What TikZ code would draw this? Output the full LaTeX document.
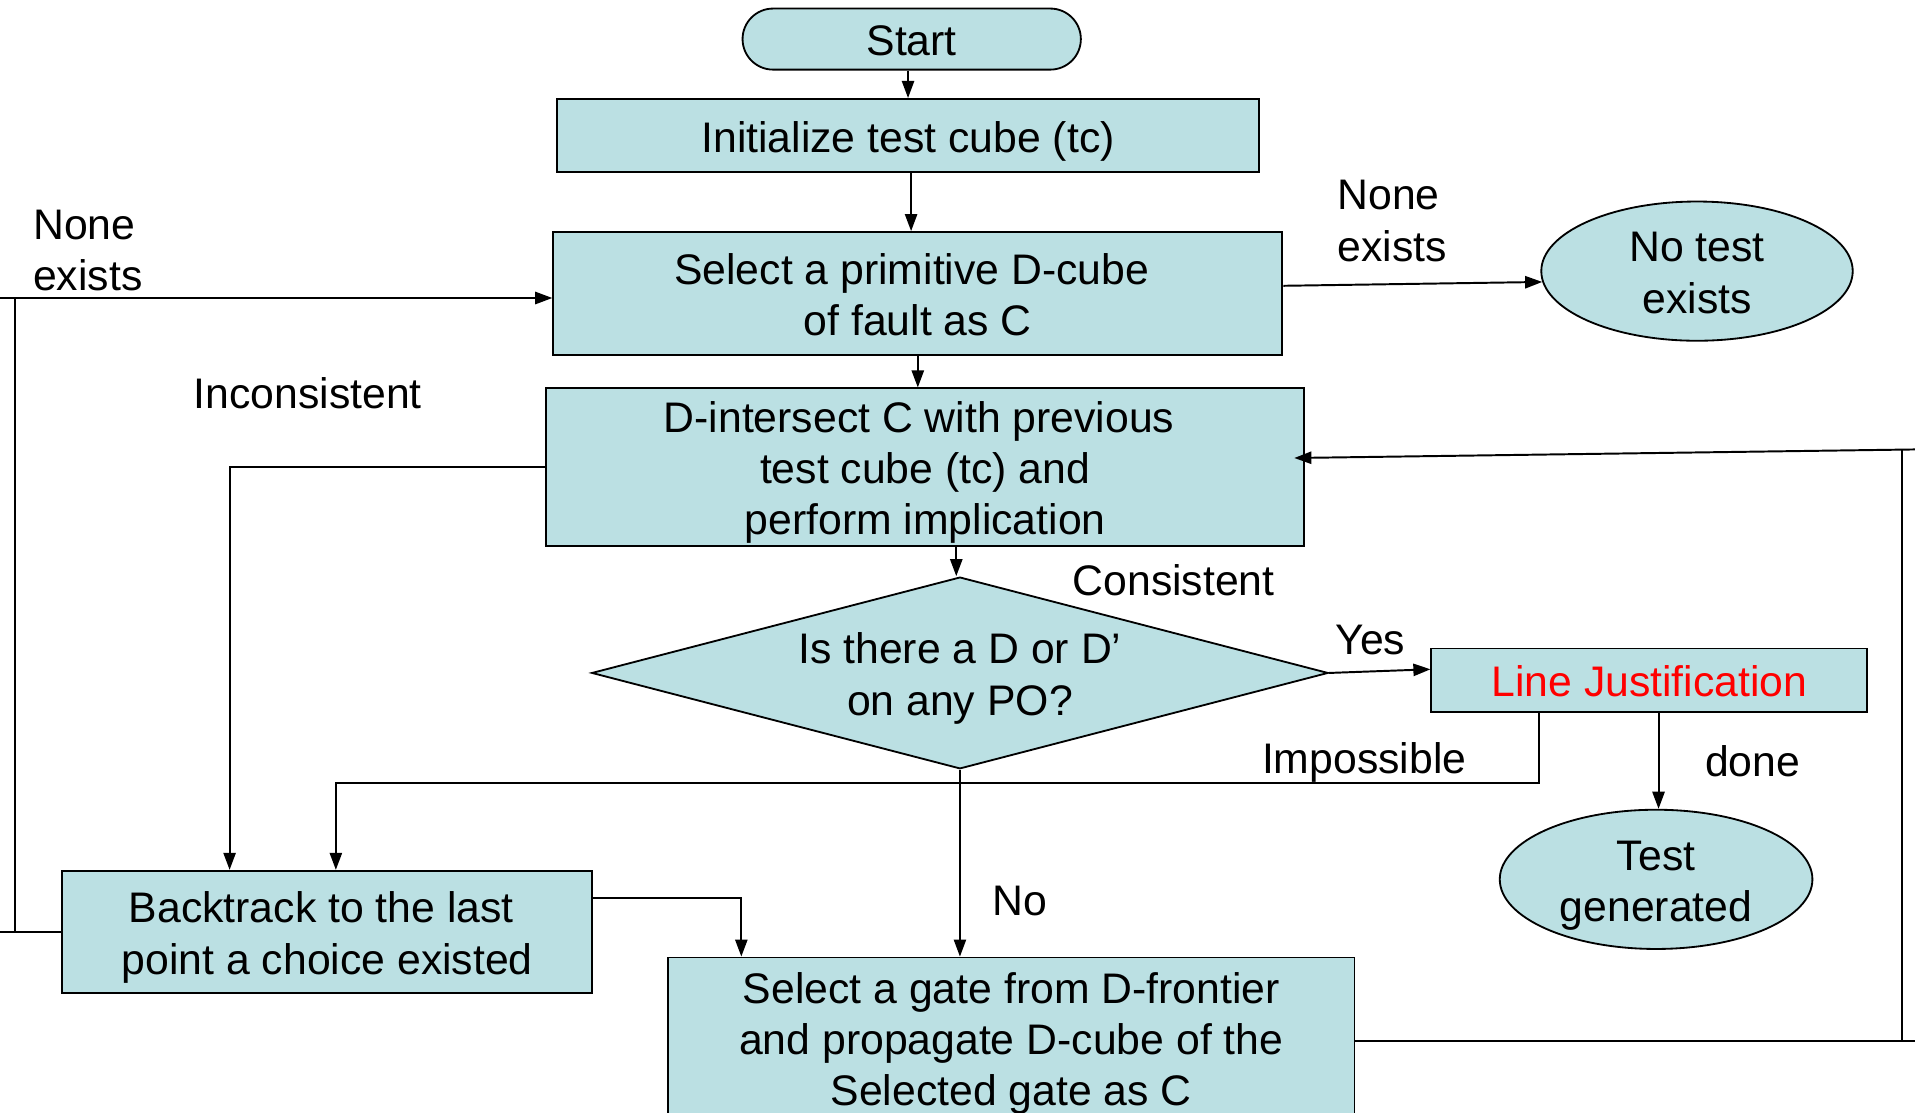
\documentclass[tikz,border=0pt]{standalone}
\usepackage{fontspec}
\setmainfont{Liberation Sans}
\usetikzlibrary{arrows.meta,shapes.geometric,calc}
\definecolor{boxfill}{HTML}{BBE0E3}
\definecolor{jred}{HTML}{FF0000}
% struts giving every box text the same height and depth
\newcommand{\tstrut}{\rule{0pt}{35pt}}
\newcommand{\bstrut}{\rule[-8pt]{0pt}{8pt}}
% trailing space kept by a wrapped line
\newcommand{\wrapsp}[1][10pt]{\hspace*{#1}}

\begin{document}
\begin{tikzpicture}[x=1pt,y=-1pt,
  every node/.style={font=\fontsize{35}{42}\selectfont},
  flowbox/.style={draw,fill=boxfill,line width=1.5pt,inner sep=0pt,align=center},
  endoval/.style={flowbox,ellipse,inner sep=-8pt,minimum height=114pt},
  lbl/.style={inner sep=0pt},
  conn/.style={line width=1.6pt},
  arr/.style={conn,-{Triangle[length=14pt,width=10pt]}}
]
\useasboundingbox (0,0) rectangle (1568,911);
\clip (0,0) rectangle (1568,911);

% ---- process boxes ----
\node[flowbox, rounded corners=25pt, minimum width=277pt, minimum height=50pt] (start) at (746.5,32) {\tstrut Start\bstrut};
\node[flowbox, minimum width=575pt, minimum height=60pt] (init) at (743.5,111) {\tstrut Initialize test cube (tc)\bstrut};
\node[flowbox, minimum width=597pt, minimum height=101pt] (sel) at (751.5,240.5) {\tstrut Select a primitive D-cube\wrapsp\\of fault as C\bstrut};
\node[flowbox, minimum width=621pt, minimum height=129pt] (dint) at (757.5,382.5) {\tstrut D-intersect C with previous\wrapsp\\test cube (tc) and\wrapsp\\perform implication\bstrut};
\node[flowbox, diamond, aspect=3.84, minimum width=603pt, minimum height=157pt] (dia) at (786,551) {\tstrut Is there a D or D’\\on any PO?\bstrut};
\node[flowbox, minimum width=357pt, minimum height=52pt, text=jred] (lj) at (1350.5,557) {\tstrut Line Justification\bstrut};
\node[endoval, minimum width=255pt] (nte) at (1389.5,222) {\tstrut No test\\exists\bstrut};
\node[endoval, minimum width=256pt] (tg) at (1356,720) {\tstrut Test\\generated\bstrut};
\node[flowbox, minimum width=434pt, minimum height=100pt] (bt) at (268,763) {\tstrut Backtrack to the last\wrapsp\\point a choice existed\bstrut};
\node[flowbox, minimum width=562pt, minimum height=132pt] (sg) at (828,850) {\tstrut Select a gate from D-frontier\\and propagate D-cube of the\wrapsp\\Selected gate as C\bstrut};

% ---- edge labels ----
\node[lbl, anchor=west, align=left] (nel) at (27,205) {None\\exists};
\node[lbl, anchor=west, align=left] (ner) at (1095,181) {None\\exists};
\node[lbl] (inc) at (252,322) {Inconsistent};
\node[lbl] (con) at (961,475) {Consistent};
\node[lbl] (yes) at (1122,524) {Yes};
\node[lbl] (imp) at (1117,624) {Impossible};
\node[lbl] (don) at (1435,623) {done};
\node[lbl] (no) at (835,738) {No};

% ---- main downward flow ----
\draw[arr] (start.south -| init.north) -- (init.north);
\draw[arr] ($(init.south)+(2.5,0)$) -- ($(init.south |- sel.north)+(2.5,0)$);
\draw[arr] (sel.south) -- (sel.south |- dint.north);
\draw[arr] ($(dia.north |- dint.south)+(-3,0)$) -- ($(dia.north)+(-3,0)$);
\draw[arr] (dia.south) -- (dia.south |- sg.north);

% ---- no primitive D-cube left ----
\draw[arr] ($(sel.east)+(0,-6.5)$) -- (nte.184);

% ---- PO reached: justify lines ----
\draw[arr] (dia.east) -- ($(lj.west)+(0,-9)$);
\draw[arr] ($(lj.south -| tg.north)+(2,0)$) -- ($(tg.north)+(2,0)$);

% ---- justification impossible: backtrack ----
\coordinate (impA) at (1260,641);
\coordinate (impB) at (275,641);
\draw[arr] (lj.south -| impA) -- (impA) -- (impB) -- (impB |- bt.north);

% ---- inconsistent intersection: backtrack ----
\coordinate (railI) at (188,0);
\draw[arr] (dint.west) -| (railI |- bt.north);

% ---- backtrack to D-frontier selection ----
\coordinate (railB) at (607,0);
\draw[arr] ($(bt.east)+(0,-28)$) -| (railB |- sg.north);

% ---- backtrack exhausted: retry primitive D-cube ----
\coordinate (edgeL1) at (0,763);
\coordinate (edgeL2) at (0,244);
\coordinate (railL) at (12,0);
\draw[conn] (bt.west) -- (edgeL1);
\draw[conn] (railL |- edgeL1) -- (railL |- edgeL2);
\draw[arr] (edgeL2) -- ($(sel.west)+(0,3.5)$);

% ---- propagated cube fed back to intersection ----
\coordinate (edgeR1) at (1568,852);
\coordinate (edgeR2) at (1568,368);
\coordinate (railR) at (1557,0);
\draw[conn] ($(sg.east)+(0,2)$) -- (edgeR1);
\draw[conn] (railR |- edgeR1) -- (railR |- edgeR2);
\draw[arr] (edgeR2) -- ($(dint.east)+(-9,-7.5)$);
\end{tikzpicture}
\end{document}
